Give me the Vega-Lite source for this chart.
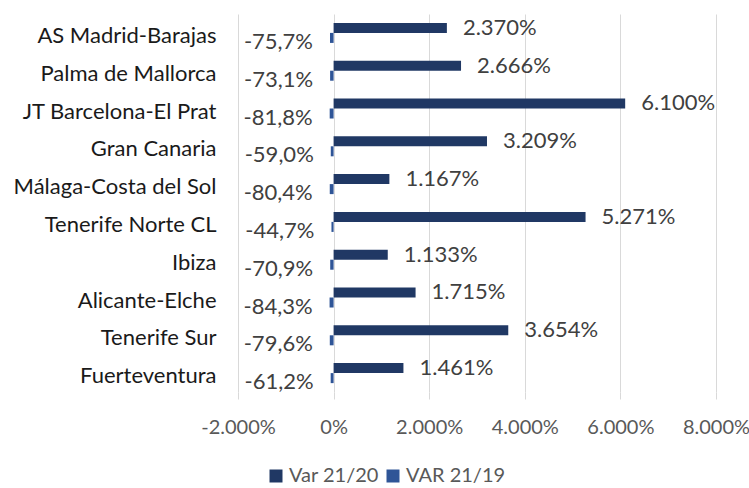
{
  "$schema": "https://vega.github.io/schema/vega-lite/v6.json",
  "autosize": {"type": "none"},
  "padding": {"left": 238, "top": 14, "right": 33, "bottom": 96},
  "width": 478,
  "height": 378,
  "config": {
    "locale": {"number": {"decimal": ",", "thousands": ".", "grouping": [3], "currency": ["", " €"], "minus": "-"}},
    "view": {"stroke": null},
    "font": "Lato"
  },
  "data": {
    "values": [
      {"airport": "AS Madrid-Barajas", "series": "Var 21/20", "value": 23.70},
      {"airport": "AS Madrid-Barajas", "series": "VAR 21/19", "value": -0.757},
      {"airport": "Palma de Mallorca", "series": "Var 21/20", "value": 26.66},
      {"airport": "Palma de Mallorca", "series": "VAR 21/19", "value": -0.731},
      {"airport": "JT Barcelona-El Prat", "series": "Var 21/20", "value": 61.00},
      {"airport": "JT Barcelona-El Prat", "series": "VAR 21/19", "value": -0.818},
      {"airport": "Gran Canaria", "series": "Var 21/20", "value": 32.09},
      {"airport": "Gran Canaria", "series": "VAR 21/19", "value": -0.590},
      {"airport": "Málaga-Costa del Sol", "series": "Var 21/20", "value": 11.67},
      {"airport": "Málaga-Costa del Sol", "series": "VAR 21/19", "value": -0.804},
      {"airport": "Tenerife Norte CL", "series": "Var 21/20", "value": 52.71},
      {"airport": "Tenerife Norte CL", "series": "VAR 21/19", "value": -0.447},
      {"airport": "Ibiza", "series": "Var 21/20", "value": 11.33},
      {"airport": "Ibiza", "series": "VAR 21/19", "value": -0.709},
      {"airport": "Alicante-Elche", "series": "Var 21/20", "value": 17.15},
      {"airport": "Alicante-Elche", "series": "VAR 21/19", "value": -0.843},
      {"airport": "Tenerife Sur", "series": "Var 21/20", "value": 36.54},
      {"airport": "Tenerife Sur", "series": "VAR 21/19", "value": -0.796},
      {"airport": "Fuerteventura", "series": "Var 21/20", "value": 14.61},
      {"airport": "Fuerteventura", "series": "VAR 21/19", "value": -0.612}
    ]
  },
  "encoding": {
    "y": {
      "field": "airport", "type": "nominal", "sort": null,
      "scale": {"paddingInner": 0.47, "paddingOuter": 0.235},
      "axis": {"title": null, "domain": false, "ticks": false, "labelPadding": 22, "labelOffset": 3, "labelFontSize": 22, "labelColor": "#1a1a1a", "labelLimit": 300}
    },
    "yOffset": {"field": "series", "type": "nominal", "scale": {"domain": ["Var 21/20", "VAR 21/19"]}},
    "x": {
      "field": "value", "type": "quantitative",
      "scale": {"domain": [-20, 80], "nice": false},
      "axis": {"title": null, "values": [-20, 0, 20, 40, 60, 80], "format": ",.0%", "labelOverlap": false, "labelBound": false, "labelFlush": false, "grid": true, "gridColor": "#d9d9d9", "domain": false, "tickColor": "#d9d9d9", "tickSize": 7, "labelPadding": 18, "labelFontSize": 20, "labelColor": "#595959"}
    }
  },
  "layer": [
    {
      "mark": {"type": "bar"},
      "encoding": {
        "color": {
          "field": "series", "type": "nominal",
          "scale": {"domain": ["Var 21/20", "VAR 21/19"], "range": ["#203864", "#2F5597"]},
          "legend": {"title": null, "orient": "none", "legendX": 28, "legendY": 452, "direction": "horizontal", "symbolType": "square", "symbolSize": 169, "symbolStrokeWidth": 0, "labelFontSize": 20, "labelColor": "#595959", "columnPadding": 4, "labelOffset": 3}
        }
      }
    },
    {
      "transform": [{"filter": "datum.series === 'Var 21/20'"}],
      "mark": {"type": "text", "align": "left", "dx": 16, "fontSize": 22, "color": "#404040"},
      "encoding": {"text": {"field": "value", "type": "quantitative", "format": ",.0%"}}
    },
    {
      "transform": [{"filter": "datum.series === 'VAR 21/19'"}],
      "mark": {"type": "text", "align": "right", "dx": -17, "dy": 4, "fontSize": 22, "color": "#404040"},
      "encoding": {"text": {"field": "value", "type": "quantitative", "format": ".1%"}}
    }
  ]
}
